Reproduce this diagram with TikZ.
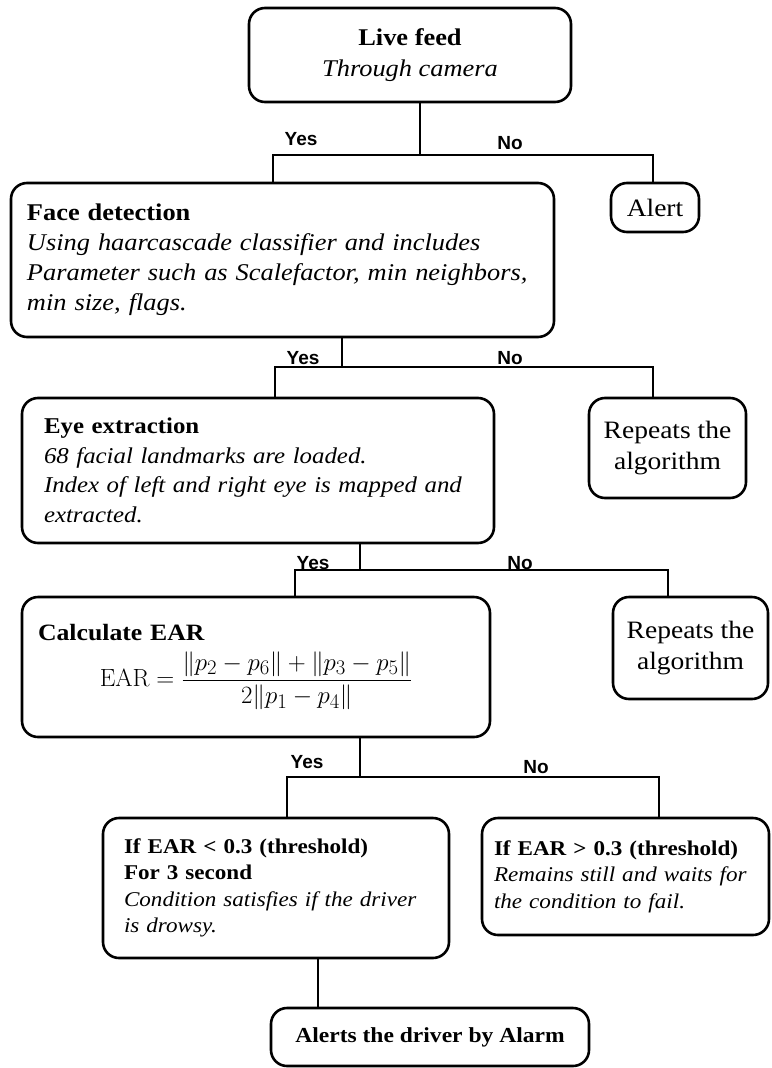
\documentclass[tikz,border=0pt]{standalone}
\usepackage[no-math]{fontspec}
\setmainfont{Liberation Serif}[FakeStretch=1.1]
\setsansfont{Liberation Sans}
\usepackage{amsmath}
\usetikzlibrary{positioning}
\newcommand{\boxfont}[2]{\fontsize{#1}{#2}\selectfont}

\begin{document}
\begin{tikzpicture}[x=1pt, y=-1pt,
      box/.style={draw, line width=2.6pt, rounded corners=16pt, inner xsep=20pt,
                  inner ysep=6pt, font=\boxfont{23}{29}},
      lbox/.style={box, align=left},
      cbox/.style={box, align=center},
      ans/.style={font=\sffamily\bfseries\fontsize{19}{22}\selectfont, inner sep=1pt},
      link/.style={line width=1.3pt}
    ]
    \useasboundingbox (0,0) rectangle (771,1068);

    % Live feed
    \node[cbox, minimum width=322, minimum height=94, font=\boxfont{24}{31}] (live) at (410,55)
          {\textbf{Live feed}\\ \textit{Through camera}};

    % Face detection / Alert
    \node[lbox, minimum width=543, minimum height=154, text width=511, inner xsep=16pt,
          font=\boxfont{24}{30}] (face) at (282.5,260)
          {\textbf{Face detection}\\
           \textit{Using haarcascade classifier and includes}\\
           \textit{Parameter such as Scalefactor, min neighbors,}\\
           \textit{min size, flags.}};
    \node[cbox, minimum width=88, minimum height=49, inner xsep=4pt, font=\boxfont{25}{31}]
          (alert) at (655,207.5) {Alert};

    % Eye extraction / Repeats
    \node[lbox, minimum width=472, minimum height=145, text width=428, inner xsep=22pt,
          font=\boxfont{22.6}{29.5}] (eye) at (258,470.5)
          {\textbf{Eye extraction}\\
           \textit{68 facial landmarks are loaded.}\\
           \textit{Index of left and right eye is mapped and}\\
           \textit{extracted.}};
    \node[cbox, minimum width=157, minimum height=100, inner xsep=4pt, font=\boxfont{25}{31}]
          (rep1) at (667.5,448) {Repeats the\\ algorithm};

    % Calculate EAR / Repeats
    \node[lbox, minimum width=468, minimum height=140, text width=436, inner xsep=16pt,
          font=\boxfont{23.4}{29}] (ear) at (256,667)
          {\textbf{Calculate EAR}\\[10pt]
           \hbox to \hsize{\hfil\boxfont{27.5}{32}$\displaystyle
             \mathrm{EAR}=\frac{\|p_2-p_6\|+\|p_3-p_5\|}{2\|p_1-p_4\|}$\hfil}};
    \node[cbox, minimum width=155, minimum height=102, inner xsep=4pt, font=\boxfont{25}{31}]
          (rep2) at (690.5,648) {Repeats the\\ algorithm};

    % Threshold checks
    \node[lbox, minimum width=346, minimum height=140, text width=304, inner xsep=21pt,
          font=\boxfont{21}{26.5}] (lt) at (276,888)
          {\textbf{If EAR < 0.3 (threshold)}\\
           \textbf{For 3 second}\\
           \textit{Condition satisfies if the driver}\\
           \textit{is drowsy.}};
    \node[lbox, minimum width=287, minimum height=117, text width=263, inner xsep=12pt,
          font=\boxfont{21}{26.5}] (gt) at (625.5,876.5)
          {\textbf{If EAR > 0.3 (threshold)}\\
           \textit{Remains still and waits for}\\
           \textit{the condition to fail.}};

    % Alarm
    \node[cbox, minimum width=318, minimum height=58, inner xsep=6pt, font=\boxfont{21.4}{26}]
          (alarm) at (430,1037) {\textbf{Alerts the driver by Alarm}};

    % Branch points
    \coordinate (j1) at (420,155);
    \coordinate (y1) at (273,155);
    \coordinate (n1) at (653,155);
    \coordinate (j2) at (342,367);
    \coordinate (y2) at (275,367);
    \coordinate (n2) at (653,367);
    \coordinate (j3) at (360,570);
    \coordinate (y3) at (295,570);
    \coordinate (n3) at (668,570);
    \coordinate (j4) at (360,777);
    \coordinate (y4) at (287,777);
    \coordinate (n4) at (659,777);
    \coordinate (j5) at (318,0);

    % Connectors
    \draw[link] (live.south -| j1) -- (j1);
    \draw[link] (face.north -| y1) -- (y1) -- (n1) -- (alert.north -| n1);
    \draw[link] (face.south -| j2) -- (j2);
    \draw[link] (eye.north -| y2) -- (y2) -- (n2) -- (rep1.north -| n2);
    \draw[link] (eye.south -| j3) -- (j3);
    \draw[link] (ear.north -| y3) -- (y3) -- (n3) -- (rep2.north -| n3);
    \draw[link] (ear.south -| j4) -- (j4);
    \draw[link] (lt.north -| y4) -- (y4) -- (n4) -- (gt.north -| n4);
    \draw[link] (lt.south -| j5) -- (alarm.north -| j5);

    % Yes / No labels
    \node[ans] (yes1) at (301,139) {Yes};
    \node[ans] (no1)  at (510,143) {No};
    \node[ans] (yes2) at (303,358) {Yes};
    \node[ans] (no2)  at (510,358) {No};
    \node[ans] (yes3) at (313,563) {Yes};
    \node[ans] (no3)  at (520,563) {No};
    \node[ans] (yes4) at (307,762) {Yes};
    \node[ans] (no4)  at (536,767) {No};
  \end{tikzpicture}
\end{document}
